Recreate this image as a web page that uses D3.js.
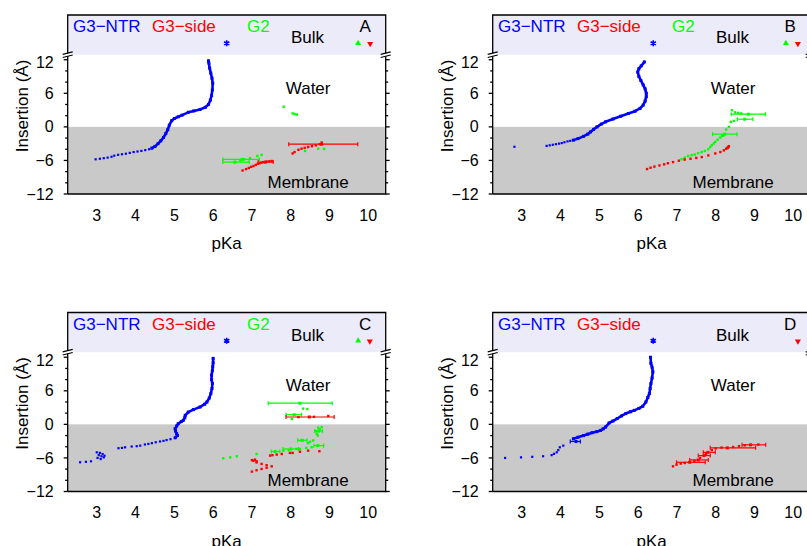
<!DOCTYPE html>
<html>
<head>
<meta charset="utf-8">
<script src="https://cdn.jsdelivr.net/npm/d3@7"></script>
<style>
body { margin: 0; background: #fff; }
svg { display: block; font-family: "Liberation Sans", Arial, sans-serif; }
</style>
</head>
<body>
<div id="chart"></div>
<script>
// Axis ticks
let xTicks = [3, 4, 5, 6, 7, 8, 9, 10]
let yTicks = [-12, -6, 0, 6, 12]
let yMinor = [-10, -8, -4, -2, 2, 4, 8, 10]

// ---- Panel A ----
let ntrDotsA = [[2.97,-5.8],[3.08,-5.7],[3.18,-5.6],[3.28,-5.5],[3.38,-5.35],[3.45,-5.15],[3.55,-5.0],[3.65,-4.9],[3.75,-4.8],[3.85,-4.65],[3.95,-4.5],[4.05,-4.4],[4.15,-4.3],[4.25,-4.15],[4.35,-4.0]]
let ntrLineA = [[4.42,-3.8],[4.5,-3.5],[4.58,-3.0],[4.65,-2.5],[4.72,-1.9],[4.78,-1.2],[4.83,-0.5],[4.87,0.3],[4.93,1.1],[5.0,1.5],[5.1,1.8],[5.2,2.1],[5.36,2.6],[5.5,2.85],[5.66,3.1],[5.8,3.5],[5.88,4.0],[5.93,4.8],[5.96,5.6],[5.98,6.6],[5.99,7.8],[5.97,8.7],[5.94,9.6],[5.91,10.5],[5.89,11.4],[5.88,11.8]]
let sideDotsA = [[6.76,-7.8],[6.85,-7.55],[6.92,-7.35],[6.98,-7.15],[7.04,-7.0],[7.1,-6.8],[7.15,-6.6],[7.2,-6.5],[7.25,-6.4],[7.3,-6.3],[7.38,-6.2],[7.45,-6.15],[7.51,-6.1],[8.05,-4.75],[8.1,-4.5],[8.2,-4.1],[8.28,-3.9],[8.36,-3.75],[8.45,-3.6],[8.55,-3.45],[8.65,-3.3],[8.75,-3.1],[8.8,-2.8]]
let sideBarsA = [[8.8,-3.1,7.95,9.73],[7.35,-6.3,7.16,7.55]]
let g2DotsA = [[7.82,3.6],[8.05,2.4],[8.1,2.3],[8.16,2.2],[6.56,-6.3],[6.7,-6.0],[6.8,-5.8],[6.95,-5.6],[7.14,-5.2],[7.25,-5.0],[8.37,-4.3],[8.71,-3.9],[8.86,-3.95]]
let g2BarsA = [[6.75,-5.8,6.25,7.19],[6.56,-6.3,6.25,6.93]]
let bulkA = {ntr: 6.35, g2: 9.74, side: 10.05}

// ---- Panel B ----
let ntrDotsB = [[2.81,-3.56],[3.64,-3.4],[3.72,-3.3],[3.8,-3.2],[3.88,-3.1],[3.96,-3.0],[4.03,-2.9],[4.1,-2.75],[4.18,-2.6],[4.25,-2.5]]
let ntrLineB = [[4.33,-2.37],[4.45,-2.1],[4.59,-1.7],[4.7,-1.3],[4.77,-0.9],[4.85,-0.45],[4.94,0.0],[5.05,0.5],[5.16,0.9],[5.35,1.4],[5.55,1.9],[5.75,2.4],[5.92,2.8],[6.05,3.3],[6.13,3.9],[6.18,4.6],[6.21,5.4],[6.21,6.0],[6.18,6.8],[6.13,7.5],[6.07,8.3],[6.02,9.0],[5.99,9.8],[6.02,10.4],[6.08,10.9],[6.16,11.6]]
let sideDotsB = [[6.23,-7.54],[6.32,-7.3],[6.42,-7.1],[6.55,-6.9],[6.67,-6.7],[6.77,-6.5],[6.9,-6.3],[7.05,-6.05],[7.2,-5.85],[7.35,-5.7],[7.5,-5.55],[7.64,-5.4],[7.81,-5.1],[7.99,-4.75],[8.12,-4.5],[8.21,-4.2],[8.27,-3.9],[8.31,-3.7],[8.34,-3.45],[8.3,-3.8],[8.33,-3.6]]
let sideBarsB = []
let g2DotsB = [[7.12,-5.8],[7.2,-5.5],[7.29,-5.2],[7.38,-5.05],[7.46,-4.95],[7.55,-4.7],[7.64,-4.5],[7.72,-4.3],[7.81,-4.0],[7.86,-3.6],[7.9,-3.26],[7.95,-2.95],[7.99,-2.67],[8.05,-2.3],[8.12,-1.9],[8.17,-1.6],[8.21,-1.5],[8.27,-0.47],[8.34,0.0],[8.39,0.9],[8.47,1.07],[8.42,2.97],[8.5,2.6],[8.58,2.5],[8.66,2.4]]
let g2BarsB = [[8.23,-1.3,7.92,8.55],[8.84,2.26,8.4,9.28],[8.75,1.37,8.56,8.96]]
let bulkB = {ntr: 6.39, g2: 9.81, side: 10.12}

// ---- Panel C ----
let ntrDotsC = [[2.57,-6.77],[2.72,-6.7],[2.85,-6.6],[3.0,-5.0],[3.08,-5.1],[3.15,-5.3],[3.05,-5.5],[3.12,-5.7],[3.18,-5.9],[3.02,-6.0],[3.1,-6.2],[3.2,-5.6],[3.56,-4.26],[3.65,-4.2],[3.73,-4.1],[3.9,-3.96],[4.03,-3.9],[4.12,-3.8],[4.24,-3.6],[4.33,-3.5],[4.42,-3.36],[4.52,-3.2],[4.63,-3.06],[4.72,-2.95],[4.8,-2.8],[4.9,-2.65]]
let ntrLineC = [[5.02,-2.4],[5.08,-2.0],[5.06,-1.68],[5.03,-1.2],[5.02,-0.77],[5.06,-0.3],[5.1,0.12],[5.18,0.5],[5.23,0.72],[5.27,1.2],[5.28,1.62],[5.36,2.2],[5.49,2.64],[5.66,3.1],[5.78,3.6],[5.84,4.0],[5.9,4.7],[5.94,5.5],[5.97,6.4],[5.98,7.3],[5.96,8.0],[5.96,8.8],[5.98,9.6],[5.99,10.3],[6.0,11.0],[6.0,11.8]]
let sideDotsC = [[7.0,-8.45],[7.12,-8.2],[7.25,-7.97],[7.38,-7.75],[7.51,-7.5],[7.38,-7.3],[7.25,-7.07],[7.12,-6.8],[7.04,-6.5],[7.08,-6.3],[7.12,-6.6],[7.0,-6.4],[7.47,-5.58],[7.53,-5.5],[7.64,-5.4],[7.77,-5.3],[7.98,-5.1],[8.05,-5.1],[8.24,-4.9],[8.45,-4.7],[8.74,-4.8],[8.2,1.3],[8.6,1.35],[8.97,1.5]]
let sideBarsC = [[8.48,1.32,7.88,9.12]]
let g2DotsC = [[6.26,-6.06],[6.44,-5.9],[6.61,-5.7],[7.12,-5.3],[7.6,-4.86],[7.81,-4.7],[7.95,-4.6],[8.15,-4.38],[8.24,-4.38],[8.4,-4.2],[8.54,-4.08],[8.71,-3.77],[8.28,-2.88],[8.45,-3.36],[8.58,-2.88],[8.5,-3.1],[8.67,-1.68],[8.7,-2.0],[8.71,-0.6],[8.75,-0.9],[8.65,-1.2],[8.8,-0.5],[8.03,0.95],[8.32,2.82],[8.43,2.75]]
let g2BarsC = [[8.24,3.78,7.42,9.07],[8.09,1.73,7.88,8.28],[8.3,-2.85,8.18,8.42],[8.72,-1.2,8.62,8.82],[8.0,-4.4,7.8,8.2],[8.7,-3.8,8.6,8.85],[7.6,-4.85,7.5,7.72]]
let bulkC = {ntr: 6.35, g2: 9.74, side: 10.04}

// ---- Panel D ----
let ntrDotsD = [[2.57,-6.0],[2.98,-5.9],[3.27,-5.8],[3.55,-5.7],[3.77,-5.5],[3.83,-5.27],[3.9,-5.0],[3.94,-4.6],[3.98,-4.1],[4.07,-3.8]]
let ntrLineD = [[4.33,-2.58],[4.45,-2.3],[4.59,-2.0],[4.7,-1.75],[4.81,-1.5],[4.93,-1.3],[5.03,-1.08],[5.1,-0.8],[5.16,-0.48],[5.25,0.24],[5.35,0.6],[5.46,1.03],[5.57,1.5],[5.68,1.93],[5.8,2.25],[5.9,2.5],[6.02,2.85],[6.12,3.24],[6.2,4.0],[6.25,4.8],[6.29,5.5],[6.31,6.4],[6.33,7.3],[6.36,8.3],[6.38,9.4],[6.36,10.2],[6.33,10.9],[6.32,12.0]]
let ntrBarsD = [[4.4,-3.06,4.25,4.51]]
let sideDotsD = [[6.9,-7.5],[6.99,-7.2],[7.1,-7.0],[7.2,-6.9],[7.45,-6.5],[7.6,-6.0],[7.75,-5.3],[7.9,-4.6],[8.0,-4.3],[8.15,-4.15],[8.45,-4.05],[8.6,-3.9],[8.75,-3.75],[9.1,-3.6]]
let sideBarsD = [[7.33,-6.78,6.99,7.73],[7.55,-6.36,7.33,7.81],[7.7,-5.58,7.55,7.86],[7.8,-5.0,7.68,7.99],[8.3,-4.2,7.86,9.03],[8.9,-3.66,8.68,9.29]]
let bulkD = {ntr: 6.39, g2: null, side: 10.12}

let panels = [
  {id: 'A', col: 0, row: 0, ntrDots: ntrDotsA, ntrLine: ntrLineA, ntrBars: [], sideDots: sideDotsA, sideBars: sideBarsA, g2Dots: g2DotsA, g2Bars: g2BarsA, bulk: bulkA},
  {id: 'B', col: 1, row: 0, ntrDots: ntrDotsB, ntrLine: ntrLineB, ntrBars: [], sideDots: sideDotsB, sideBars: sideBarsB, g2Dots: g2DotsB, g2Bars: g2BarsB, bulk: bulkB},
  {id: 'C', col: 0, row: 1, ntrDots: ntrDotsC, ntrLine: ntrLineC, ntrBars: [], sideDots: sideDotsC, sideBars: sideBarsC, g2Dots: g2DotsC, g2Bars: g2BarsC, bulk: bulkC},
  {id: 'D', col: 1, row: 1, ntrDots: ntrDotsD, ntrLine: ntrLineD, ntrBars: ntrBarsD, sideDots: sideDotsD, sideBars: sideBarsD, g2Dots: [], g2Bars: [], bulk: bulkD}
]

// Plot constants
let panelW = 318
let headerH = 39.7
let plotB = 179
let blue = '#0000ff', red = '#ff0000', green = '#00ff00'

let svg = d3.select('#chart').append('svg')
  .attr('width', 807)
  .attr('height', 546)

let x = d3.scaleLinear().domain([2.25, 10.45]).range([0, panelW])
let y = d3.scaleLinear().domain([-12, 12.9]).range([plotB, headerH])
let line = d3.line().x(function(d){ return x(d[0]) }).y(function(d){ return y(d[1]) })

function drawDots(g, data, color, s){
  g.append('g').selectAll('rect')
    .data(data)
    .enter().append('rect')
    .attr('x', function(d){ return x(d[0]) - s/2 })
    .attr('y', function(d){ return y(d[1]) - s/2 })
    .attr('width', s)
    .attr('height', s)
    .attr('fill', color)
}

function drawBars(g, data, color){
  let b = g.append('g').attr('stroke', color).attr('stroke-width', 1.2)
  b.selectAll('.bar').data(data).enter().append('line')
    .attr('x1', function(d){ return x(d[2]) })
    .attr('x2', function(d){ return x(d[3]) })
    .attr('y1', function(d){ return y(d[1]) })
    .attr('y2', function(d){ return y(d[1]) })
  b.selectAll('.capl').data(data).enter().append('line')
    .attr('x1', function(d){ return x(d[2]) }).attr('x2', function(d){ return x(d[2]) })
    .attr('y1', function(d){ return y(d[1]) - 2 }).attr('y2', function(d){ return y(d[1]) + 2 })
  b.selectAll('.capr').data(data).enter().append('line')
    .attr('x1', function(d){ return x(d[3]) }).attr('x2', function(d){ return x(d[3]) })
    .attr('y1', function(d){ return y(d[1]) - 2 }).attr('y2', function(d){ return y(d[1]) + 2 })
  drawDots(g, data, color, 3)
}

function drawPanel(p){
  let g = svg.append('g')
    .attr('transform', `translate(${67.7 + 425*p.col},${15 + 297.5*p.row})`)

  // Bulk header band and membrane shading
  g.append('rect').attr('width', panelW).attr('height', headerH).attr('fill', '#ebebfa')
  g.append('rect')
    .attr('y', y(0)).attr('width', panelW).attr('height', y(-12) - y(0))
    .attr('fill', '#c9c9c9')

  // Header legend
  let labels = [['G3\u2212NTR', blue, 5.3], ['G3\u2212side', red, 84.3]]
  if (p.bulk.g2 !== null) labels.push(['G2', green, 179.3])
  labels.forEach(function(l){
    g.append('text').attr('x', l[2]).attr('y', 17.3).attr('fill', l[1])
      .style('font-size', '17px').text(l[0])
  })
  g.append('text').attr('x', 223.3).attr('y', 28.3).style('font-size', '17px').text('Bulk')
  g.append('text').attr('x', 297.5).attr('y', 17.3).attr('text-anchor', 'middle')
    .style('font-size', '17px').text(p.id)

  // Bulk values
  g.append('path')
    .attr('d', d3.symbol(d3.symbolAsterisk).size(26))
    .attr('transform', `translate(${x(p.bulk.ntr)},28.3)`)
    .attr('fill', 'none').attr('stroke', blue).attr('stroke-width', 1.6)
  if (p.bulk.g2 !== null) {
    g.append('path')
      .attr('d', d3.symbol(d3.symbolTriangle).size(16))
      .attr('transform', `translate(${x(p.bulk.g2)},28.3)`)
      .attr('fill', green)
  }
  g.append('path')
    .attr('d', d3.symbol(d3.symbolTriangle).size(16))
    .attr('transform', `translate(${x(p.bulk.side)},28.8) rotate(180)`)
    .attr('fill', red)

  // Region labels
  g.append('text').attr('x', x(8.45)).attr('y', y(5.9)).attr('text-anchor', 'middle')
    .style('font-size', '17px').text('Water')
  g.append('text').attr('x', x(8.45)).attr('y', y(-11.0)).attr('text-anchor', 'middle')
    .style('font-size', '17px').text('Membrane')

  // Data
  g.append('path').datum(p.ntrLine).attr('d', line)
    .attr('fill', 'none').attr('stroke', blue).attr('stroke-width', 2.6)
    .attr('stroke-linejoin', 'round').attr('stroke-linecap', 'round')
  drawDots(g, p.ntrLine, blue, 3)
  drawDots(g, p.ntrDots, blue, 2.2)
  drawBars(g, p.ntrBars, blue)
  drawDots(g, p.g2Dots, green, 2.4)
  drawBars(g, p.g2Bars, green)
  drawDots(g, p.sideDots, red, 2.4)
  drawBars(g, p.sideBars, red)

  // Frame
  let frame = g.append('g').attr('stroke', '#000').attr('stroke-width', 1.3).attr('fill', 'none')
  frame.append('path').attr('d', `M0,${plotB}V0H${panelW}V${plotB}H0`)

  // Y ticks on both sides
  ;[[0, -1], [panelW, 1]].forEach(function(side){
    let sx = side[0], dir = side[1]
    frame.selectAll(null).data(yTicks.filter(function(t){ return t < 12.5 })).enter().append('line')
      .attr('x1', sx).attr('x2', sx + dir*4)
      .attr('y1', function(d){ return y(d) }).attr('y2', function(d){ return y(d) })
    frame.selectAll(null).data(yMinor).enter().append('line')
      .attr('x1', sx).attr('x2', sx + dir*2.5)
      .attr('y1', function(d){ return y(d) }).attr('y2', function(d){ return y(d) })
    // axis break
    g.append('rect').attr('x', sx - 5).attr('y', headerH - 1.5).attr('width', 10).attr('height', 3).attr('fill', '#fff')
    g.append('path').attr('d', `M${sx-5},${headerH-0.3}L${sx+5},${headerH-2.8}M${sx-5},${headerH+2.8}L${sx+5},${headerH+0.3}`)
      .attr('stroke', '#000').attr('stroke-width', 1.2)
  })

  // Tick labels
  g.append('g').selectAll('text').data(yTicks).enter().append('text')
    .attr('x', -14).attr('y', function(d){ return y(d) + (d === 12 ? 3 : 0) })
    .attr('dy', '0.35em').attr('text-anchor', 'end').style('font-size', '16px')
    .text(function(d){ return d < 0 ? '\u2212' + Math.abs(d) : d })
  g.append('g').selectAll('text').data(xTicks).enter().append('text')
    .attr('x', function(d){ return x(d) }).attr('y', 205.5)
    .attr('text-anchor', 'middle').style('font-size', '16px')
    .text(function(d){ return d })

  // Axis titles
  g.append('text').attr('x', panelW/2).attr('y', 234).attr('text-anchor', 'middle')
    .style('font-size', '17px').text('pKa')
  g.append('text')
    .attr('transform', 'translate(-46,91) rotate(-90)')
    .attr('dy', '0.35em').attr('text-anchor', 'middle')
    .style('font-size', '17px').text('Insertion (\u00c5)')
}

panels.forEach(drawPanel)
</script>
</body>
</html>
